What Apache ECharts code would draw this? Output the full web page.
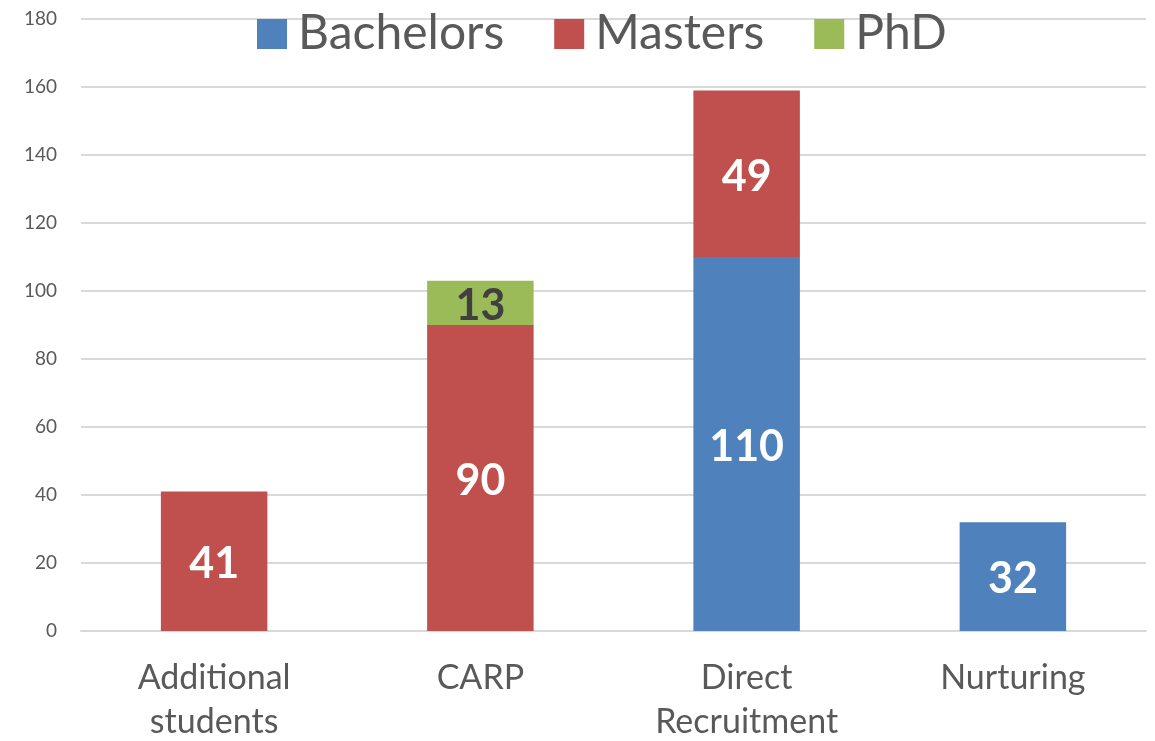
<!DOCTYPE html>
<html lang="en">
<head>
    <meta charset="UTF-8">
    <title>Recruitment by degree</title>
    <style>
        *{
            margin: 0;
            padding: 0;
        }
        html, body{
            height: 100%;
            width: 100%;
            background: #fff;
        }
        #chart{
            width: 1155px;
            height: 741px;
        }
    </style>
</head>
<body>
<div id="chart"></div>
<script src="https://cdn.jsdelivr.net/npm/echarts@6/dist/echarts.min.js"></script>
<script>
    var categories = ['Additional\nstudents', 'CARP', 'Direct\nRecruitment', 'Nurturing'];
    var bachelors = [0, 0, 110, 32];
    var masters = [41, 90, 49, 0];
    var phd = [0, 13, 0, 0];
    var yTicks = [0, 20, 40, 60, 80, 100, 120, 140, 160, 180];

    var font = 'Lato, "Open Sans", sans-serif';
    var chart = echarts.init(document.getElementById('chart'));

    function barLabel(color) {
        return {
            show: true,
            position: 'inside',
            offset: [0, 3],
            color: color,
            fontFamily: font,
            fontWeight: 'bold',
            fontSize: 43,
            formatter: function (p) {
                return p.value ? p.value : '';
            }
        };
    }

    var option = {
        animation: false,
        textStyle: {fontFamily: font},
        legend: {
            top: 5,
            left: 252,
            icon: 'rect',
            itemWidth: 30,
            itemHeight: 30,
            itemGap: 50,
            textStyle: {
                fontSize: 48,
                color: '#595959',
                fontFamily: font,
                padding: [0, 0, 0, 6]
            },
            data: ['Bachelors', 'Masters', 'PhD']
        },
        grid: {
            left: 81,
            right: 9,
            top: 19,
            bottom: 110,
            containLabel: false,
            outerBoundsMode: 'none'
        },
        xAxis: {
            type: 'category',
            data: categories,
            axisLine: {lineStyle: {color: '#D9D9D9', width: 2}},
            axisTick: {show: false},
            axisLabel: {
                color: '#595959',
                fontSize: 34,
                lineHeight: 44,
                margin: 25,
                fontFamily: font
            }
        },
        yAxis: {
            type: 'value',
            min: yTicks[0],
            max: yTicks[yTicks.length - 1],
            interval: 20,
            axisLine: {show: false},
            axisTick: {show: false},
            splitLine: {lineStyle: {color: '#D9D9D9', width: 2}},
            axisLabel: {
                color: '#595959',
                fontSize: 19,
                margin: 24,
                fontFamily: font
            }
        },
        series: [
            {
                name: 'Bachelors',
                type: 'bar',
                stack: 'total',
                barWidth: '40%',
                itemStyle: {color: '#4F81BD'},
                label: barLabel('#fff'),
                data: bachelors
            },
            {
                name: 'Masters',
                type: 'bar',
                stack: 'total',
                itemStyle: {color: '#C0504D'},
                label: barLabel('#fff'),
                data: masters
            },
            {
                name: 'PhD',
                type: 'bar',
                stack: 'total',
                itemStyle: {color: '#9BBB59'},
                label: barLabel('#404040'),
                data: phd
            }
        ]
    };
    chart.setOption(option);
</script>
</body>
</html>
